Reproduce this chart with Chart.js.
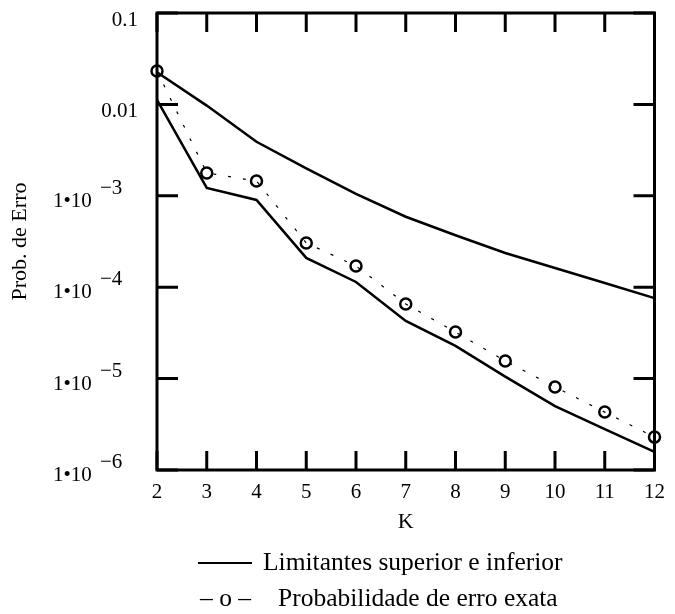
<!DOCTYPE html>
<html>
<head>
<meta charset="utf-8">
<script src="https://cdn.jsdelivr.net/npm/chart.js@4/dist/chart.umd.min.js"></script>
<style>
  body { margin: 0; background: #fff; }
  #wrap { position: relative; width: 675px; height: 614px; font-family: "Liberation Serif", "Times New Roman", serif; color: #000; }
  .leg { position: absolute; font-size: 25.5px; line-height: 26px; white-space: nowrap; }
  .leg-line { position: absolute; height: 1.5px; background: #000; }
</style>
</head>
<body>
<div id="wrap">
  <canvas id="chart" width="675" height="614"></canvas>
  <div class="leg-line" style="left:198px; top:562px; width:54px;"></div>
  <div class="leg" style="left:263px; top:549px;">Limitantes superior e inferior</div>
  <div class="leg" style="left:200px; top:585px;">– o –</div>
  <div class="leg" style="left:278px; top:585px;">Probabilidade de erro exata</div>
</div>
<script>
const kValues = [2, 3, 4, 5, 6, 7, 8, 9, 10, 11, 12];
const upperBound = [0.0225, 0.0097, 0.0039, 0.0020, 0.00105, 0.00059, 0.00037, 0.000237, 0.000162, 0.000111, 0.000076];
const lowerBound = [0.0112, 0.00122, 0.00090, 0.000209, 0.000114, 0.0000427, 0.0000228, 0.0000105, 0.0000050, 0.0000028, 0.00000158];
const exactProb = [0.0232, 0.00178, 0.00145, 0.000305, 0.000171, 0.0000655, 0.0000323, 0.0000156, 0.0000081, 0.0000043, 0.00000229];

const yTickValues = [0.1, 0.01, 1e-3, 1e-4, 1e-5, 1e-6];
const yTickMain = ['0.1', '0.01', '1\u202210', '1\u202210', '1\u202210', '1\u202210'];
const yTickExp = ['', '', '\u22123', '\u22124', '\u22125', '\u22126'];

const FONT = '"Liberation Serif", "Times New Roman", serif';

function toPoints(ys) {
    return kValues.map((k, i) => ({ x: k, y: ys[i] }));
}

// box around the plot, inward ticks on all four sides, y labels with exponents
const framePlugin = {
    id: 'frame',
    afterDraw(chart) {
        const ctx = chart.ctx;
        const area = chart.chartArea;
        const xs = chart.scales.x;
        const ys = chart.scales.y;
        ctx.save();
        ctx.strokeStyle = '#000';
        ctx.lineWidth = 3;
        ctx.strokeRect(area.left, area.top, area.right - area.left, area.bottom - area.top);

        ctx.beginPath();
        kValues.forEach(k => {
            const px = xs.getPixelForValue(k);
            ctx.moveTo(px, area.bottom);
            ctx.lineTo(px, area.bottom - 19);
            ctx.moveTo(px, area.top);
            ctx.lineTo(px, area.top + 19);
        });
        yTickValues.forEach(v => {
            const py = ys.getPixelForValue(v);
            ctx.moveTo(area.left, py);
            ctx.lineTo(area.left + 21, py);
            ctx.moveTo(area.right, py);
            ctx.lineTo(area.right - 21, py);
        });
        ctx.stroke();

        ctx.fillStyle = '#000';
        ctx.font = '21px ' + FONT;
        ctx.textBaseline = 'alphabetic';
        yTickValues.forEach((v, i) => {
            const py = ys.getPixelForValue(v);
            if (yTickExp[i]) {
                ctx.textAlign = 'left';
                ctx.fillText(yTickMain[i], 53, py + 11);
                ctx.fillText(yTickExp[i], 100, py - 2);
            } else {
                ctx.textAlign = 'right';
                ctx.fillText(yTickMain[i], 138, py + 13);
            }
        });
        ctx.restore();
    }
};

new Chart(document.getElementById('chart'), {
    type: 'line',
    data: {
        datasets: [
            {
                label: 'Limitante superior',
                data: toPoints(upperBound),
                borderColor: '#000',
                borderWidth: 2.5,
                pointRadius: 0,
                tension: 0
            },
            {
                label: 'Limitante inferior',
                data: toPoints(lowerBound),
                borderColor: '#000',
                borderWidth: 2.5,
                pointRadius: 0,
                tension: 0
            },
            {
                label: 'Probabilidade de erro exata',
                data: toPoints(exactProb),
                borderColor: '#000',
                borderWidth: 1.2,
                borderDash: [3, 12],
                pointRadius: 5.5,
                pointBorderWidth: 2.5,
                pointBorderColor: '#000',
                pointBackgroundColor: 'rgba(255,255,255,0)',
                tension: 0
            }
        ]
    },
    options: {
        responsive: false,
        animation: false,
        devicePixelRatio: 1,
        clip: false,
        layout: { padding: { left: 0, right: 15, top: 13, bottom: 77 } },
        plugins: {
            legend: { display: false },
            tooltip: { enabled: false }
        },
        scales: {
            x: {
                type: 'linear',
                min: 2,
                max: 12,
                grid: { display: false, drawTicks: false },
                border: { display: false },
                ticks: {
                    stepSize: 1,
                    padding: 10,
                    color: '#000',
                    font: { family: FONT, size: 21 }
                },
                title: {
                    display: true,
                    text: 'K',
                    color: '#000',
                    font: { family: FONT, size: 22 },
                    padding: { top: 0, bottom: 2 }
                },
                afterFit: scale => { scale.height = 67; }
            },
            y: {
                type: 'logarithmic',
                min: 1e-6,
                max: 0.1,
                grid: { display: false, drawTicks: false },
                border: { display: false },
                ticks: { display: false },
                title: {
                    display: true,
                    text: 'Prob. de Erro',
                    color: '#000',
                    font: { family: FONT, size: 22 },
                    padding: { top: 7, bottom: 0 }
                },
                afterFit: scale => { scale.width = 157; }
            }
        }
    },
    plugins: [framePlugin]
});
</script>
</body>
</html>
